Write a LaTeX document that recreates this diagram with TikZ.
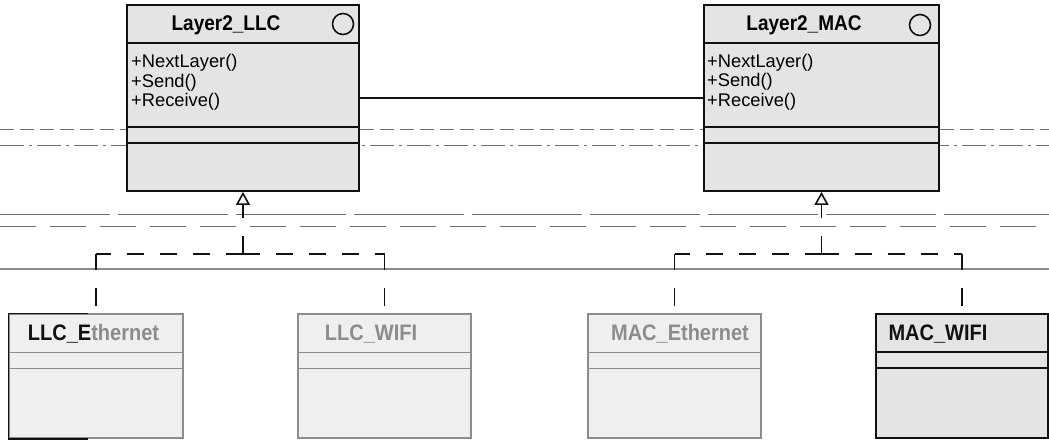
\documentclass[tikz,border=0pt]{standalone}
\usepackage{graphicx}
\usepackage{fontspec}
\setmainfont{Liberation Sans}
\usetikzlibrary{arrows.meta,positioning,calc}
\definecolor{Ink}{HTML}{111111}
\definecolor{Faded}{HTML}{8C8C8C}
\definecolor{Scan}{HTML}{6E6E6E}
\definecolor{Speck}{HTML}{E4E4E4}
\definecolor{PaleSpeck}{HTML}{EFEFEF}
\newcommand{\talltext}[1]{\scalebox{1}[1.12]{#1}}
\tikzset{
  classbox/.style={draw=Ink,fill=Speck,line width=1.8pt,inner sep=0pt},
  fadedbox/.style={draw=Faded,fill=PaleSpeck,line width=1.4pt,inner sep=0pt},
  toptitle/.style={font=\fontsize{19}{22}\selectfont\bfseries,anchor=base,inner sep=0pt},
  subtitle/.style={font=\fontsize{20}{23}\selectfont\bfseries,anchor=base,inner sep=0pt},
  oper/.style={font=\fontsize{18.3}{21}\selectfont,anchor=base west,inner sep=0pt},
  classmark/.style={draw=Ink,circle,minimum size=21pt,line width=1.6pt,inner sep=0pt},
  compline/.style={line width=1.3pt},
  realize/.style={draw=Ink,line width=1.5pt,dash pattern=on 17pt off 16pt},
  drop/.style={draw=Ink,line width=1.5pt,dash pattern=on 18pt off 18pt},
  inherit/.style={-{Triangle[open,fill=white,length=13pt,width=14pt,line width=1.6pt]}},
  assoc/.style={draw=Ink,line width=1.3pt},
  rule/.style={draw=Scan,line width=.9pt},
}

\begin{document}
\begin{tikzpicture}[x=1pt,y=-1pt]
  \useasboundingbox (0,0) rectangle (1049,441);
  % ruled lines of the scanned page
  \draw[rule,dash pattern=on 14pt off 6pt] (0,129) -- (1049,129);
  \draw[rule,dash pattern=on 24pt off 5pt on 3pt off 5pt] (0,145) -- (1049,145);
  \draw[rule,dash pattern=on 110pt off 8pt] (0,214) -- (1049,214);
  \draw[rule,dash pattern=on 36pt off 14pt] (0,226) -- (1049,226);
  \draw[rule,draw=Faded,line width=2pt] (0,269) -- (1049,269);

  % upper classes
  \node[classbox,minimum width=232pt,minimum height=186pt] (llc) at (243,98) {};
  \node[classbox,minimum width=235pt,minimum height=186pt] (mac) at (821.5,98) {};
  \foreach \b in {llc,mac}{
    \foreach \y in {39,123,139}
      \draw[compline,Ink] ($(\b.north west)+(0,\y)$) -- ($(\b.north east)+(0,\y)$);
  }
  \node[toptitle] (llctitle) at (226,31) {\talltext{Layer2\_LLC}};
  \node[toptitle] (mactitle) at (804,31) {\talltext{Layer2\_MAC}};
  \node[classmark] (llcmark) at (343,24) {};
  \node[classmark] (macmark) at (920,25) {};
  \node[oper] (llcnext) at (131,68) {+NextLayer()};
  \node[oper] (llcsend) at (131,88) {+Send()};
  \node[oper] (llcrecv) at (131,107) {+Receive()};
  \node[oper] (macnext) at (707,68) {+NextLayer()};
  \node[oper] (macsend) at (707,87) {+Send()};
  \node[oper] (macrecv) at (707,107) {+Receive()};
  \draw[assoc] (llc) -- (mac);

  % lower classes
  \node[fadedbox,minimum width=174pt,minimum height=124pt] (llceth) at (96,376) {};
  \node[fadedbox,minimum width=173pt,minimum height=124pt] (llcwifi) at (384.5,376) {};
  \node[fadedbox,minimum width=173pt,minimum height=124pt] (maceth) at (674.5,376) {};
  \node[classbox,minimum width=172pt,minimum height=124pt] (macwifi) at (962,376) {};
  \foreach \b/\c in {llceth/Faded,llcwifi/Faded,maceth/Faded,macwifi/Ink}{
    \foreach \y in {39,55}
      \draw[compline,\c] ($(\b.north west)+(0,\y)$) -- ($(\b.north east)+(0,\y)$);
  }
  \draw[Ink,line width=1.6pt] ([xshift=80pt]llceth.north west) -- (llceth.north west)
    -- (llceth.south west) -- ([xshift=80pt]llceth.south west);
  \node[subtitle] (llcethtitle) at (93.5,340) {\talltext{\textcolor{Ink}{LLC\_E}\textcolor{Faded}{thernet}}};
  \node[subtitle,Faded] (llcwifititle) at (371,340) {\talltext{LLC\_WIFI}};
  \node[subtitle,Faded] (macethtitle) at (680,340) {\talltext{MAC\_Ethernet}};
  \node[subtitle,Ink] (macwifititle) at (938,340) {\talltext{MAC\_WIFI}};

  % realization trees
  \coordinate (llcfork) at (243,254);
  \coordinate (macfork) at (821.5,254);
  \foreach \f/\c in {llcfork/llceth,llcfork/llcwifi,macfork/maceth,macfork/macwifi}{
    \coordinate (\c bend) at (\c.north |- \f);
    \draw[realize] (\f) -- (\c bend);
    \draw[drop,shorten <=7pt] (\c.north) -- (\c bend);
  }
  \draw[drop,inherit] (llcfork) -- (llc.south);
  \draw[drop,inherit] (macfork) -- (mac.south);
\end{tikzpicture}
\end{document}
